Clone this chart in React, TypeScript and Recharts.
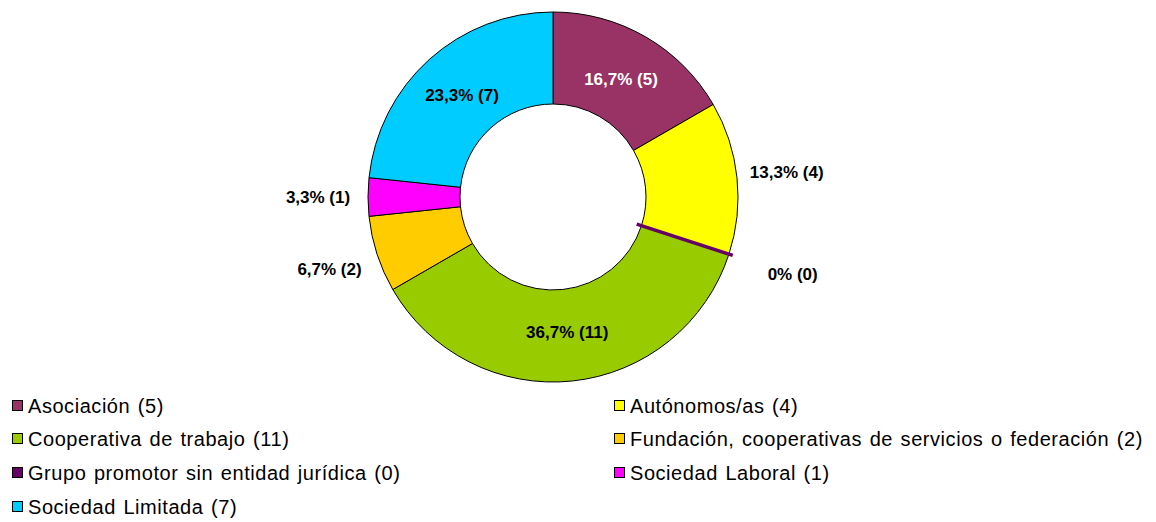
import React from 'react';
import { PieChart, Pie, Cell } from 'recharts';

// orden de los sectores (sentido horario desde arriba)
const categories = [
  'Asociación',
  'Autónomos/as',
  'Grupo promotor sin entidad jurídica',
  'Cooperativa de trabajo',
  'Fundación, cooperativas de servicios o federación',
  'Sociedad Laboral',
  'Sociedad Limitada',
];
const counts = [5, 4, 0, 11, 2, 1, 7];
const colors = ['#993366', '#FFFF00', '#660066', '#99CC00', '#FFCC00', '#FF00FF', '#00CCFF'];
// etiquetas dentro del anillo
const insideLabels = ['Asociación', 'Cooperativa de trabajo', 'Sociedad Limitada'];

const RADIAN = Math.PI / 180;
const FONT = '"Liberation Sans", Arial, sans-serif';

const total = counts.reduce((s, v) => s + v, 0);
const data = categories.map((name, i) => ({ name, value: counts[i], color: colors[i] }));
const legendItems = [...data].sort((a, b) => a.name.localeCompare(b.name, 'es'));

const formatPercent = (v: number) => {
  if (v === 0) return '0%';
  return `${((v / total) * 100).toFixed(1).replace('.', ',')}%`;
};

const renderLabel = (props: any) => {
  const { cx, cy, midAngle, innerRadius, outerRadius, value, name } = props;
  const cos = Math.cos(-midAngle * RADIAN);
  const sin = Math.sin(-midAngle * RADIAN);
  const inside = insideLabels.includes(name);
  const r = inside ? (innerRadius + outerRadius) / 2 - 3 : outerRadius + (value === 0 ? 67 : 50);
  const x = cx + r * cos;
  const y = cy + r * sin;
  const text = (
    <text
      x={x}
      y={y}
      fill={name === 'Asociación' ? '#fff' : '#000'}
      textAnchor='middle'
      dominantBaseline='central'
      fontFamily={FONT}
      fontWeight='bold'
      fontSize={17}
    >
      {`${formatPercent(value)} (${value})`}
    </text>
  );
  if (value !== 0) return text;
  // sector de valor cero: se dibuja como una línea
  const r0 = innerRadius - 5;
  const r1 = outerRadius + 4;
  return (
    <g>
      <line
        x1={cx + r0 * cos}
        y1={cy + r0 * sin}
        x2={cx + r1 * cos}
        y2={cy + r1 * sin}
        stroke={colors[categories.indexOf(name)]}
        strokeWidth={3.5}
      />
      {text}
    </g>
  );
};

export default function App() {
  return (
    <div style={{ position: 'absolute', left: 0, top: 0, width: 1156, height: 522, background: '#fff' }}>
      <PieChart width={1156} height={392} margin={{ top: 0, right: 0, bottom: 0, left: 0 }}>
        <Pie
          data={data}
          dataKey='value'
          nameKey='name'
          cx={553}
          cy={197}
          innerRadius={93}
          outerRadius={185}
          startAngle={90}
          endAngle={-270}
          stroke='#000'
          strokeWidth={1}
          labelLine={false}
          label={renderLabel}
          isAnimationActive={false}
        >
          {data.map((d, i) => (
            <Cell key={`cell-${i}`} fill={d.color} />
          ))}
        </Pie>
      </PieChart>

      {/* leyenda */}
      <div
        style={{
          position: 'absolute',
          left: 12,
          top: 395.5,
          display: 'grid',
          gridTemplateColumns: '602px 540px',
          gridAutoRows: '33.7px',
          fontFamily: FONT,
          fontSize: 20,
          lineHeight: '20px',
          letterSpacing: 0.55,
          wordSpacing: 1.5,
          color: '#000',
        }}
      >
        {legendItems.map((item) => (
          <div key={item.name} style={{ display: 'flex', alignItems: 'flex-start', whiteSpace: 'nowrap' }}>
            <div
              style={{
                width: 9,
                height: 9,
                marginTop: 4,
                marginRight: 5,
                border: '1px solid #000',
                background: item.color,
                flexShrink: 0,
              }}
            />
            <span>{`${item.name} (${item.value})`}</span>
          </div>
        ))}
      </div>
    </div>
  );
}
